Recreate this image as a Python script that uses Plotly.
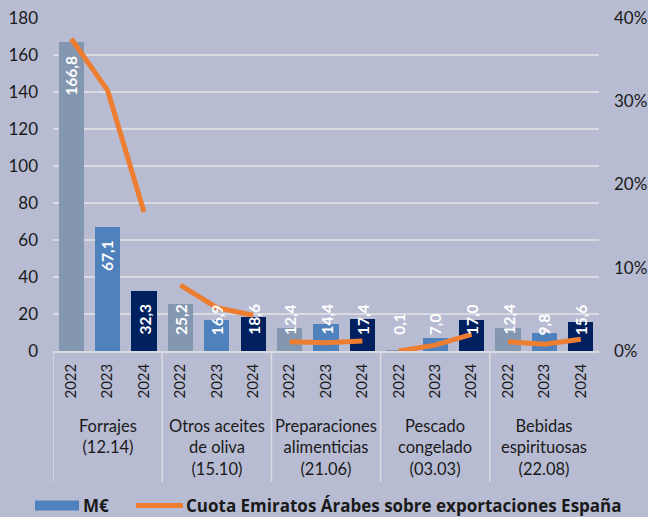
import plotly.graph_objects as go

groups = ["Forrajes<br>(12.14)", "Otros aceites<br>de oliva<br>(15.10)",
          "Preparaciones<br>alimenticias<br>(21.06)", "Pescado<br>congelado<br>(03.03)",
          "Bebidas<br>espirituosas<br>(22.08)"]
years = ["2022", "2023", "2024"]
valores_meur = [
    [166.8, 67.1, 32.3],
    [25.2, 16.9, 18.6],
    [12.4, 14.4, 17.4],
    [0.1, 7.0, 17.0],
    [12.4, 9.8, 15.6],
]
cuota_pct = [
    [37.5, 31.3, 16.7],
    [7.9, 5.2, 4.3],
    [1.1, 1.0, 1.2],
    [0.0, 0.7, 2.0],
    [1.1, 0.8, 1.4],
]
legend_bar = "M€"
legend_line = "Cuota Emiratos Árabes sobre exportaciones España"
year_colors = {"2022": "#8497B0", "2023": "#4F81BD", "2024": "#002060"}
bg = "#B8BCD2"
grid = "#D9DAE2"
FONT = "Lato"
TXT = "#1a1a1a"

# figure geometry (px)
W, H = 648, 517
ML, MR, MT, MB = 53, 49, 18, 166
PW, PH = W - ML - MR, H - MT - MB
YMAX = 180


def px_to_paper_x(px):
    return (px - ML) / PW


def px_to_paper_y(py):
    return (H - MB - py) / PH


xs, ys, cols, txt, ticktext = [], [], [], [], []
for gi, vals in enumerate(valores_meur):
    for yi, v in enumerate(vals):
        xs.append(gi * 3 + yi)
        ys.append(v)
        cols.append(year_colors[years[yi]])
        txt.append(f"{v:.1f}".replace(".", ","))
        ticktext.append(years[yi])

fig = go.Figure()
fig.add_trace(go.Bar(
    x=xs, y=ys, marker=dict(color=cols, line=dict(width=0)), width=0.69,
    showlegend=False, hoverinfo="skip"))

for gi, vals in enumerate(cuota_pct):
    fig.add_trace(go.Scatter(
        x=[gi * 3 + yi for yi in range(3)], y=[v / 100 for v in vals],
        yaxis="y2", mode="lines", line=dict(color="#ED7D31", width=5),
        showlegend=False, hoverinfo="skip"))

annotations = []
# bar value labels (white, rotated)
px_per_unit = PH / YMAX
for x, v, t in zip(xs, ys, txt):
    bar_px = v * px_per_unit
    if bar_px - 12 - 38 >= 14:
        annotations.append(dict(x=x, y=v, xref="x", yref="y", text=f"<b>{t}</b>",
                                textangle=-90, showarrow=False, yanchor="top",
                                xanchor="center", yshift=-11,
                                font=dict(size=15.5, family=FONT, color="white")))
    else:
        annotations.append(dict(x=x, y=0, xref="x", yref="y", text=f"<b>{t}</b>",
                                textangle=-90, showarrow=False, yanchor="bottom",
                                xanchor="center", yshift=14,
                                font=dict(size=15.5, family=FONT, color="white")))

shapes = []
for k in range(len(groups)):
    shapes.append(dict(type="line", xref="x", yref="paper", x0=k * 3 - 0.5, x1=k * 3 - 0.5,
                       y0=0, y1=px_to_paper_y(482), line=dict(color=grid, width=1.5)))
for gi, g in enumerate(groups):
    annotations.append(dict(x=gi * 3 + 1, y=px_to_paper_y(414), xref="x", yref="paper", text=g,
                            showarrow=False, yanchor="top", xanchor="center",
                            font=dict(size=16.5, family=FONT, color=TXT)))

# legend (drawn manually to match swatch sizes)
LEG_Y = 505.5
shapes.append(dict(type="rect", xref="paper", yref="paper",
                   x0=px_to_paper_x(35), x1=px_to_paper_x(79),
                   y0=px_to_paper_y(LEG_Y + 5), y1=px_to_paper_y(LEG_Y - 5),
                   fillcolor="#4F81BD", line=dict(width=0)))
shapes.append(dict(type="line", xref="paper", yref="paper",
                   x0=px_to_paper_x(136), x1=px_to_paper_x(183),
                   y0=px_to_paper_y(LEG_Y), y1=px_to_paper_y(LEG_Y),
                   line=dict(color="#ED7D31", width=5)))
annotations.append(dict(x=px_to_paper_x(82), y=px_to_paper_y(LEG_Y - 0.5), xref="paper",
                        yref="paper", text=f"<b>{legend_bar}</b>", showarrow=False,
                        xanchor="left", yanchor="middle", borderpad=0,
                        font=dict(size=17, family="Open Sans", color=TXT)))
annotations.append(dict(x=px_to_paper_x(185), y=px_to_paper_y(LEG_Y - 0.5), xref="paper",
                        yref="paper", text=f"<b>{legend_line}</b>", showarrow=False,
                        xanchor="left", yanchor="middle", borderpad=0,
                        font=dict(size=17, family="Open Sans", color=TXT)))

fig.update_layout(
    width=W, height=H,
    margin=dict(l=ML, r=MR, t=MT, b=MB),
    paper_bgcolor=bg, plot_bgcolor=bg,
    font=dict(family=FONT, size=16, color=TXT),
    bargap=0, showlegend=False,
    xaxis=dict(range=[-0.5, 14.5], tickvals=list(range(15)), ticktext=ticktext,
               tickangle=-90, showgrid=False, zeroline=False, showline=True,
               linecolor=grid, linewidth=1.5, ticks="", automargin=False,
               ticklabelstandoff=5,
               tickfont=dict(size=15, family=FONT, color=TXT)),
    yaxis=dict(range=[0, YMAX], dtick=20, showgrid=True, gridcolor=grid,
               gridwidth=1.5, zeroline=False, ticks="", showline=False, automargin=False,
               ticklabelstandoff=14,
               tickfont=dict(size=17, family=FONT, color=TXT)),
    yaxis2=dict(range=[0, 0.4], dtick=0.1, tickformat=".0%", overlaying="y",
                side="right", showgrid=False, zeroline=False, ticks="", automargin=False,
                ticklabelstandoff=14,
                tickfont=dict(size=17, family=FONT, color=TXT)),
    shapes=shapes, annotations=annotations,
)

fig.write_html("out.html", config={"displayModeBar": False},
               post_script="document.body.style.margin='0';")
